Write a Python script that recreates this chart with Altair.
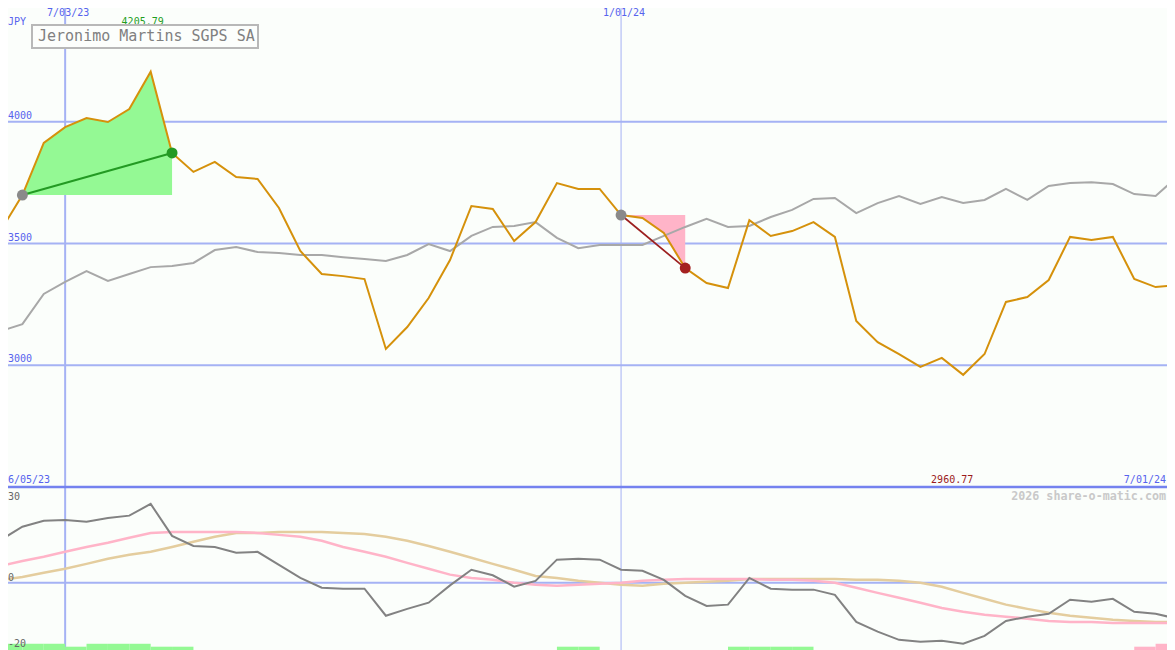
import altair as alt
import pandas as pd

# ---------------- data ----------------
dates = pd.date_range("2023-06-12", periods=56, freq="7D")

price = [3555, 3699, 3913, 3978, 4015, 3999, 4052, 4205.79, 3872, 3794,
         3835, 3773, 3765, 3646, 3469, 3375, 3366, 3354, 3067, 3157,
         3276, 3432, 3654, 3642, 3510, 3588, 3748, 3724, 3724, 3617,
         3605, 3543, 3399, 3338, 3317, 3596, 3531, 3551, 3588, 3527,
         3182, 3095, 3046, 2993, 3030, 2960.77, 3046, 3260, 3280, 3350,
         3527, 3514, 3527, 3354, 3321, 3330]

index_line = [3141, 3169, 3293, 3342, 3387, 3346, 3375, 3403, 3408, 3420,
              3473, 3486, 3465, 3461, 3453, 3453, 3444, 3436, 3428, 3453,
              3498, 3469, 3531, 3568, 3572, 3588, 3523, 3481, 3494, 3494,
              3494, 3531, 3568, 3601, 3568, 3572, 3609, 3638, 3683, 3687,
              3625, 3666, 3695, 3662, 3691, 3666, 3679, 3724, 3679, 3736,
              3748, 3752, 3744, 3703, 3695, 3773]

momentum = [13.2, 17.2, 19.0, 19.3, 18.7, 19.9, 20.6, 24.2, 14.4, 11.3,
            11.0, 9.2, 9.5, 5.5, 1.5, -1.5, -1.8, -1.8, -10.1, -8.0,
            -6.1, -0.8, 4.0, 2.3, -1.2, 0.6, 7.1, 7.4, 7.1, 4.0,
            3.7, 0.9, -4.0, -7.1, -6.7, 1.5, -1.8, -2.1, -2.1, -3.7,
            -12.0, -15.0, -17.5, -18.1, -17.8, -18.7, -16.3, -11.7, -10.4, -9.5,
            -5.2, -5.8, -4.9, -8.9, -9.5, -11.0]

ma_short = [5.2, 6.7, 8.0, 9.5, 11.0, 12.3, 13.8, 15.3, 15.6, 15.6,
            15.6, 15.6, 15.3, 14.7, 14.1, 12.9, 11.0, 9.5, 8.0, 6.1,
            4.3, 2.5, 1.5, 0.9, 0.0, -0.6, -0.9, -0.6, -0.3, 0.0,
            0.6, 0.9, 1.2, 1.2, 1.2, 1.2, 0.9, 0.9, 0.6, 0.0,
            -1.5, -3.1, -4.6, -6.1, -7.7, -8.9, -9.8, -10.4, -11.0, -11.7,
            -12.0, -12.0, -12.3, -12.3, -12.3, -12.3]

ma_long = [0.9, 1.8, 3.1, 4.3, 5.8, 7.4, 8.6, 9.5, 11.0, 12.6,
           14.1, 15.3, 15.3, 15.6, 15.6, 15.6, 15.3, 15.0, 14.1, 12.9,
           11.3, 9.5, 7.7, 5.8, 4.0, 2.1, 1.5, 0.6, 0.0, -0.6,
           -0.9, -0.3, 0.0, 0.3, 0.6, 1.2, 1.2, 1.2, 1.2, 1.2,
           0.9, 0.9, 0.6, 0.0, -1.2, -3.1, -4.9, -6.7, -8.0, -9.2,
           -10.1, -10.7, -11.3, -11.7, -12.0, -12.0]

# weekly signal strength (interval i -> i+1): + green, - pink
signal = [2, 2, 2, 1, 2, 2, 2, 1, 1, 0,
          0, 0, 0, 0, 0, 0, 0, 0, 0, 0,
          0, 0, 0, 0, 0, 0, 1, 1, 0, 0,
          0, 0, 0, 0, 1, 1, 1, 1, 0, 0,
          0, 0, 0, 0, 0, 0, 0, 0, 0, 0,
          0, 0, 0, -1, -2]

grid_prices = [3000, 3500, 4000]
vlines = ["2023-07-03", "2024-01-01"]
vline_labels = ["7/03/23", "1/01/24"]
green_trade = (1, 8)
red_trade = (29, 32)
title = "Jeronimo Martins SGPS SA"

# ---------------- tables ----------------
df = pd.DataFrame({"date": dates, "price": price, "index": index_line,
                   "mom": momentum, "ma1": ma_short, "ma2": ma_long})

g0, g1 = green_trade
r0, r1 = red_trade
green_area = df.iloc[g0:g1 + 1].assign(base=price[g0])
red_area = df.iloc[r0:r1 + 1].assign(base=price[r0])
green_seg = df.iloc[[g0, g1]]
red_seg = df.iloc[[r0, r1]]
dots = pd.DataFrame({
    "date": [dates[g0], dates[r0], dates[g1], dates[r1]],
    "price": [price[g0], price[r0], price[g1], price[r1]],
    "c": ["#8a8a8a", "#8a8a8a", "#239a23", "#a42020"],
})

bar_rows = []
for i, s in enumerate(signal):
    if s != 0:
        bar_rows.append({"d0": dates[i], "d1": dates[i + 1], "lo": -21,
                         "hi": -18.7 if abs(s) == 2 else -19.6,
                         "c": "#94f994" if s > 0 else "#ffb4c8"})
bars = pd.DataFrame(bar_rows)

vdf = pd.DataFrame({"date": pd.to_datetime(vlines), "label": vline_labels, "w": [2, 1]})
gdf = pd.DataFrame({"p": grid_prices, "label": [str(p) for p in grid_prices]})

imax = price.index(max(price))
imin = price.index(min(price))
maxdf = pd.DataFrame({"date": [dates[imax]], "label": [f"{max(price):.2f}"]})
mindf = pd.DataFrame({"date": [dates[imin]], "label": [f"{min(price):.2f}"]})

# ---------------- scales ----------------
W, H = 1159, 642
FONT = "DejaVu Sans Mono"
BLUE = "#5663ee"

xs = alt.Scale(domain=[alt.DateTime(year=2023, month=6, date=12),
                       alt.DateTime(year=2024, month=7, date=1)],
               range=[-7, 1169])
ytop = alt.Scale(domain=[2500, 4500], range=[479, -8], nice=False, zero=False)
ybot = alt.Scale(domain=[-20, 30], range=[640, 477], nice=False, zero=False)

X = alt.X("date:T", scale=xs, axis=None)

def Yt(f):
    return alt.Y(f"{f}:Q", scale=ytop, axis=None)

def Yb(f):
    return alt.Y(f"{f}:Q", scale=ybot, axis=None)

# ---------------- layers ----------------
hgrid = alt.Chart(gdf).mark_rule(color="#a5b2f4", strokeWidth=2).encode(
    y=Yt("p"), x=alt.value(0), x2=alt.value(W))

zero_line = alt.Chart(pd.DataFrame({"v": [0]})).mark_rule(
    color="#a5b2f4", strokeWidth=2).encode(y=Yb("v"), x=alt.value(0), x2=alt.value(W))

sep = alt.Chart(pd.DataFrame({"v": [0]})).mark_rule(
    color="#7482ef", strokeWidth=2.5).encode(y=alt.value(479), x=alt.value(0), x2=alt.value(W))

vgrid = alt.Chart(vdf).mark_rule(color="#a5b2f4").encode(
    x=X, y=alt.value(0), y2=alt.value(H),
    strokeWidth=alt.StrokeWidth("w:Q", scale=None, legend=None))

garea = alt.Chart(green_area).mark_area(color="#94f994", opacity=1).encode(
    x=X, y=Yt("price"), y2="base:Q")
rarea = alt.Chart(red_area).mark_area(color="#ffb4c8", opacity=1).encode(
    x=X, y=Yt("price"), y2="base:Q")

idx_line = alt.Chart(df).mark_line(color="#a8a8a8", strokeWidth=2).encode(
    x=X, y=Yt("index"))
price_line = alt.Chart(df).mark_line(color="#d5910b", strokeWidth=2).encode(
    x=X, y=Yt("price"))

gseg = alt.Chart(green_seg).mark_line(color="#239a23", strokeWidth=2).encode(
    x=X, y=Yt("price"))
rseg = alt.Chart(red_seg).mark_line(color="#9c1f1f", strokeWidth=1.7).encode(
    x=X, y=Yt("price"))

dot_layer = alt.Chart(dots).mark_circle(size=120, opacity=1).encode(
    x=X, y=Yt("price"), color=alt.Color("c:N", scale=None, legend=None))

l_ma2 = alt.Chart(df).mark_line(color="#e4cd9e", strokeWidth=2.5).encode(x=X, y=Yb("ma2"))
l_ma1 = alt.Chart(df).mark_line(color="#ffb4c8", strokeWidth=2.5).encode(x=X, y=Yb("ma1"))
l_mom = alt.Chart(df).mark_line(color="#828282", strokeWidth=2).encode(x=X, y=Yb("mom"))

bar_layer = alt.Chart(bars).mark_rect().encode(
    x=alt.X("d0:T", scale=xs, axis=None), x2="d1:T",
    y=alt.Y("hi:Q", scale=ybot, axis=None), y2="lo:Q",
    color=alt.Color("c:N", scale=None, legend=None))

# ---------------- texts ----------------
def txt(**kw):
    base = dict(font=FONT, fontSize=10, baseline="alphabetic")
    base.update(kw)
    return base

vlabels = alt.Chart(vdf).mark_text(**txt(align="center", dx=3, color=BLUE)).encode(
    x=X, y=alt.value(8), text="label:N")

gridlabels = alt.Chart(gdf).mark_text(**txt(align="left", dy=-3, color=BLUE)).encode(
    x=alt.value(0), y=Yt("p"), text="label:N")

maxlabel = alt.Chart(maxdf).mark_text(**txt(align="center", dx=-8, color="#1f9e1f")).encode(
    x=X, y=alt.value(17), text="label:N")
minlabel = alt.Chart(mindf).mark_text(**txt(align="center", dx=-11, color="#9b1b1b")).encode(
    x=X, y=alt.value(475), text="label:N")

def fixed_text(label, x, y, **kw):
    return alt.Chart(pd.DataFrame({"t": [label]})).mark_text(**txt(**kw)).encode(
        x=alt.value(x), y=alt.value(y), text="t:N")

jpy = fixed_text("JPY", 0, 17, align="left", color=BLUE)
start_lbl = fixed_text("6/05/23", 0, 475, align="left", color=BLUE)
end_lbl = fixed_text("7/01/24", 1158, 475, align="right", color=BLUE)
wm = fixed_text("2026 share-o-matic.com", 1158, 492, align="right", color="#c9c9c9",
                fontSize=11.7, fontWeight="bold")
b30 = fixed_text("30", 0, 492, align="left", color="#666666")
b0 = fixed_text("0", 0, 573, align="left", color="#666666")
bm20 = fixed_text("-20", 0, 639, align="left", color="#666666")

title_box = alt.Chart(pd.DataFrame({"t": [title]})).mark_rect(
    fill="#fcfefc", stroke="#b8b8b8", strokeWidth=2).encode(
    x=alt.value(24), x2=alt.value(250), y=alt.value(17), y2=alt.value(40))
title_txt = fixed_text(title, 30, 33, align="left", color="#808080", fontSize=15)

chart = alt.layer(
    hgrid, zero_line, vgrid, sep,
    garea, rarea,
    idx_line, price_line, gseg, rseg, dot_layer,
    l_ma2, l_ma1, l_mom, bar_layer,
    vlabels, gridlabels, maxlabel, minlabel,
    jpy, start_lbl, end_lbl, wm, b30, b0, bm20,
    title_box, title_txt,
).resolve_scale(y="independent").properties(
    width=W, height=H, padding=0,
    autosize=alt.AutoSizeParams(type="none"),
    background="#fbfefb",
).configure_view(stroke=None)

chart.save("out.html", embed_options={"renderer": "svg", "actions": False})
